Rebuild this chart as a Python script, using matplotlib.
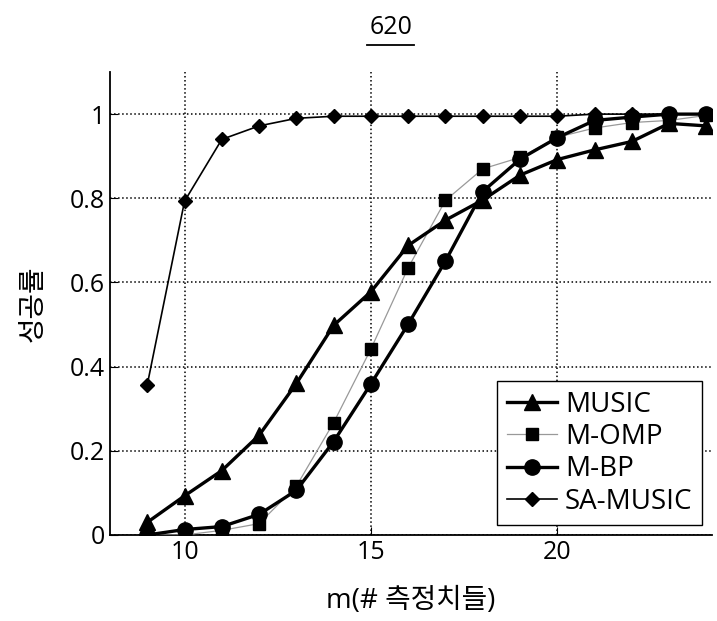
import matplotlib.pyplot as plt
from matplotlib.lines import Line2D

plt.rcParams['font.family'] = ['Open Sans', 'Noto Sans CJK KR', 'DejaVu Sans']

m = [9, 10, 11, 12, 13, 14, 15, 16, 17, 18, 19, 20, 21, 22, 23, 24]
music = [0.03, 0.093, 0.153, 0.237, 0.36, 0.498, 0.578, 0.688, 0.748, 0.796, 0.855, 0.892, 0.915, 0.935, 0.978, 0.972]
m_omp = [0.0, 0.0, 0.011, 0.027, 0.116, 0.267, 0.442, 0.635, 0.795, 0.87, 0.897, 0.945, 0.967, 0.98, 0.985, 0.997]
m_bp = [0.0, 0.013, 0.02, 0.049, 0.106, 0.222, 0.359, 0.501, 0.651, 0.816, 0.893, 0.944, 0.985, 0.993, 1.0, 1.0]
sa_music = [0.357, 0.793, 0.94, 0.972, 0.99, 0.995, 0.995, 0.995, 0.995, 0.995, 0.995, 0.995, 1.0, 1.0, 1.0, 1.0]

fig = plt.figure(figsize=(7.17, 6.21), dpi=100)
ax = fig.add_axes([0.1534, 0.1385, 0.8396, 0.7455])

ax.plot(m, music, color='black', lw=2.4, marker='^', ms=12, label='MUSIC', zorder=4)
ax.plot(m, m_omp, color='#999999', lw=0.9, marker='s', ms=8, mfc='black', mec='black', label='M-OMP', zorder=3)
ax.plot(m, m_bp, color='black', lw=2.4, marker='o', ms=11, label='M-BP', zorder=5)
ax.plot(m, sa_music, color='black', lw=1.2, marker='D', ms=7, label='SA-MUSIC', zorder=6)

ax.set_xlim(8, 24.15)
ax.set_ylim(0, 1.1)
ax.set_xticks([10, 15, 20])
ax.set_yticks([0, 0.2, 0.4, 0.6, 0.8, 1])
ax.set_yticklabels(['0', '0.2', '0.4', '0.6', '0.8', '1'])
ax.tick_params(direction='in', labelsize=18, length=6)
ax.grid(True, color='black', linestyle=':', linewidth=1.1)
for s in ['top', 'right']:
    ax.spines[s].set_visible(False)
for s in ['left', 'bottom']:
    ax.spines[s].set_linewidth(1.3)

ax.set_xlabel('m(# 측정치들)', fontsize=20, labelpad=16)
ax.set_ylabel('성공률', fontsize=20, labelpad=16)

leg = ax.legend(loc='lower right', fontsize=20, fancybox=False, framealpha=1,
                edgecolor='black', borderaxespad=0.35, handlelength=1.8,
                handletextpad=0.3, labelspacing=0.15, borderpad=0.35)
leg.get_frame().set_linewidth(1.0)

fig.text(0.545, 0.955, '620', ha='center', va='center', fontsize=18)
fig.add_artist(Line2D([0.512, 0.578], [0.928, 0.928], color='black', lw=1.3, transform=fig.transFigure))

fig.savefig('out.png', dpi=100)
